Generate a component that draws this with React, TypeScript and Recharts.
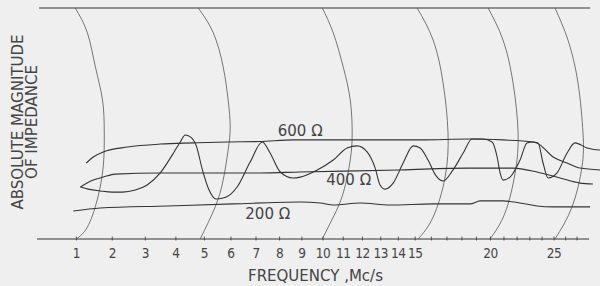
import { LineChart, Line, XAxis, YAxis, ReferenceLine, ReferenceDot } from 'recharts';

// frequency axis is drawn as log(f + F_OFFSET), values are read in Mc/s
const F_OFFSET = 10;
const F_MIN = 0;
const F_MAX = 29.12;

const tickFreqs = [1, 2, 3, 4, 5, 6, 7, 8, 9, 10, 11, 12, 13, 14, 15, 16, 17, 18, 19, 20, 21, 22, 23, 24, 25, 26, 27];
const labelledFreqs = [1, 2, 3, 4, 5, 6, 7, 8, 9, 10, 11, 12, 13, 14, 15, 20, 25];

// [frequency Mc/s, relative magnitude 0-100]
const line600: [number, number][] = [
  [1.27, 32.9], [1.46, 35.5], [1.74, 37.7], [2.45, 39.8], [3.48, 41.1], [4.6, 41.6], [5.86, 42.0],
  [7.17, 42.2], [8.6, 42.9], [10.7, 42.9], [15.3, 42.9], [18.56, 43.3], [20.93, 42.9], [23.26, 42.0],
  [23.58, 41.6], [24.92, 35.5], [26.12, 32.9], [27.27, 30.7], [29.12, 29.9],
];

const line400: [number, number][] = [
  [1.11, 22.5], [1.46, 25.5], [1.74, 26.8], [2.09, 28.1], [3.48, 28.6], [7.17, 28.6], [8.92, 29.0],
  [14.1, 29.9], [18.35, 30.7], [21.69, 30.7], [23.58, 29.0], [25.51, 26.4], [27.27, 24.2], [28.46, 23.8],
];

const line200: [number, number][] = [
  [0.92, 12.1], [1.66, 13.4], [3.71, 14.3], [6.09, 15.2], [8.92, 16.0], [9.86, 15.6], [10.5, 14.7],
  [11.88, 15.6], [13.53, 14.7], [16.11, 15.2], [18.56, 15.2], [19.26, 16.5], [20.93, 16.5],
  [22.23, 15.6], [23.58, 14.3], [24.92, 13.9], [28.19, 13.9],
];

const measured: [number, number][] = [
  [1.11, 22.5], [1.32, 21.6], [1.66, 20.8], [2.0, 20.3], [2.3, 20.3], [2.69, 21.2], [3.06, 23.4],
  [3.48, 28.6], [3.88, 36.4], [4.15, 42.0], [4.32, 45.0], [4.5, 44.2], [4.71, 40.3], [4.93, 29.9],
  [5.14, 22.1], [5.44, 17.3], [5.82, 18.2], [6.24, 22.5], [6.76, 33.3], [7.26, 42.0], [7.59, 37.2],
  [8.03, 29.0], [8.6, 26.4], [8.92, 26.8], [9.72, 29.9], [10.5, 34.2], [11.2, 39.4], [11.72, 40.3],
  [12.25, 37.7], [12.69, 30.7], [12.96, 23.4], [13.24, 21.6], [13.7, 24.2], [14.28, 32.9],
  [14.88, 40.3], [15.3, 39.4], [15.79, 34.2], [16.3, 27.3], [16.75, 25.1], [17.4, 29.9],
  [18.08, 37.2], [18.69, 43.3], [19.47, 43.3], [20.12, 42.0], [20.49, 35.5], [20.71, 28.6],
  [20.93, 25.5], [21.46, 26.8], [22.23, 34.2], [22.78, 41.6], [23.26, 42.0], [23.67, 41.6],
  [24.08, 32.9], [24.49, 26.4], [25.25, 28.6], [26.12, 37.2], [26.82, 41.6], [27.91, 39.4], [29.12, 38.5],
];

const arc1: [number, number][] = [
  [0.97, 100], [1.3, 89.2], [1.52, 74.5], [1.72, 60.2], [1.77, 45.9], [1.74, 31.2], [1.57, 16.9], [1.3, 5.2], [1.0, 0],
];
const arc5: [number, number][] = [
  [4.78, 100], [5.33, 89.2], [5.7, 74.5], [5.89, 60.2], [5.97, 48.5], [5.89, 38.5], [5.7, 25.5], [5.4, 13.9], [4.85, 0],
];
const arc10: [number, number][] = [
  [9.96, 100], [10.5, 89.2], [11.0, 74.5], [11.36, 60.2], [11.46, 45.9], [11.36, 34.2], [11.0, 19.9], [10.5, 9.5], [9.96, 0],
];
const arc15: [number, number][] = [
  [15.12, 100], [16.11, 86.1], [16.75, 67.5], [17.07, 45.9], [16.88, 26.8], [16.11, 9.5], [15.18, 0],
];
const arc20: [number, number][] = [
  [19.83, 100], [20.93, 86.1], [21.69, 67.5], [22.08, 45.9], [21.85, 28.6], [21.08, 11.3], [19.97, 0],
];
const arc25: [number, number][] = [
  [25.08, 100], [26.2, 86.1], [27.09, 67.5], [27.54, 45.9], [27.45, 31.2], [26.56, 13.9], [25.08, 0],
];

const impedanceLabels = [
  { text: '600 Ω', f: 8.92, v: 47.0 },
  { text: '400 Ω', f: 11.28, v: 25.8 },
  { text: '200 Ω', f: 7.49, v: 10.8 },
];

const INK = '#333';
const TEXT = '#444';
const FONT = '"DejaVu Sans", "Noto Sans", sans-serif';
const TICK_FONT = '"DejaVu Sans Condensed", "DejaVu Sans", sans-serif';

const toRows = (pts: [number, number][]) => pts.map(([f, v]) => ({ u: f + F_OFFSET, v }));

function FreqTick({ x, y, payload }: any) {
  const f = Math.round(payload.value - F_OFFSET);
  return (
    <g>
      <line x1={x} x2={x} y1={y - 2.5} y2={y + 1.5} stroke={INK} strokeWidth={0.8} />
      {labelledFreqs.includes(f) && (
        <text
          x={x}
          y={y + 19}
          textAnchor="middle"
          fontSize={13.5}
          fontFamily={TICK_FONT}
          letterSpacing={-0.5}
          fill={TEXT}
        >
          {f}
        </text>
      )}
    </g>
  );
}

export default function App() {
  const arcs = [arc1, arc5, arc10, arc15, arc20, arc25];
  const curves = [line600, line400, line200, measured];

  return (
    <div style={{ width: 600, height: 286, background: '#efefef' }}>
      <style>{'body{margin:0;background:#efefef}'}</style>
      <LineChart width={600} height={286} margin={{ top: 8, right: 0, left: 0, bottom: 0 }}>
        <XAxis
          type="number"
          dataKey="u"
          scale="log"
          domain={[F_MIN + F_OFFSET, F_MAX + F_OFFSET]}
          allowDataOverflow
          ticks={tickFreqs.map((f) => f + F_OFFSET)}
          interval={0}
          axisLine={false}
          tickLine={false}
          tickSize={0}
          tickMargin={0}
          tick={<FreqTick />}
          height={47}
          label={(props: any) => {
            const vb = props.viewBox;
            return (
              <text
                x={vb.x + vb.width / 2 - 3}
                y={vb.y + 42}
                textAnchor="middle"
                fontSize={15}
                fontFamily={FONT}
                fill={TEXT}
              >
                FREQUENCY ,Mc/s
              </text>
            );
          }}
        />
        <YAxis
          type="number"
          domain={[0, 100]}
          width={37}
          tick={false}
          axisLine={false}
          tickLine={false}
          label={(props: any) => {
            const vb = props.viewBox;
            const cy = vb.y + 114;
            return (
              <g fontSize={15} fontFamily={FONT} fill={TEXT}>
                <text x={17.5} y={cy} textAnchor="middle" dominantBaseline="central" transform={`rotate(-90, 17.5, ${cy})`}>
                  ABSOLUTE MAGNITUDE
                </text>
                <text x={32} y={cy} textAnchor="middle" dominantBaseline="central" transform={`rotate(-90, 32, ${cy})`}>
                  OF IMPEDANCE
                </text>
              </g>
            );
          }}
        />
        <ReferenceLine
          segment={[{ x: F_OFFSET + 0.05, y: 100 }, { x: F_OFFSET + 28.2, y: 100 }]}
          stroke={INK}
          strokeWidth={1.2}
        />
        <ReferenceLine
          segment={[{ x: F_OFFSET, y: 0 }, { x: F_OFFSET + 28.1, y: 0 }]}
          stroke={INK}
          strokeWidth={1.2}
        />
        {arcs.map((arc, i) => (
          <Line
            key={`arc-${i}`}
            data={toRows(arc)}
            dataKey="v"
            type="natural"
            stroke="#555"
            strokeWidth={0.8}
            dot={false}
            activeDot={false}
            isAnimationActive={false}
          />
        ))}
        {curves.map((c, i) => (
          <Line
            key={`curve-${i}`}
            data={toRows(c)}
            dataKey="v"
            type="monotone"
            stroke={INK}
            strokeWidth={1.1}
            dot={false}
            activeDot={false}
            isAnimationActive={false}
          />
        ))}
        {impedanceLabels.map((l) => (
          <ReferenceDot
            key={l.text}
            x={l.f + F_OFFSET}
            y={l.v}
            r={0}
            stroke="none"
            label={{ value: l.text, position: 'center', fontSize: 15, fontFamily: FONT, fill: TEXT }}
          />
        ))}
      </LineChart>
    </div>
  );
}
